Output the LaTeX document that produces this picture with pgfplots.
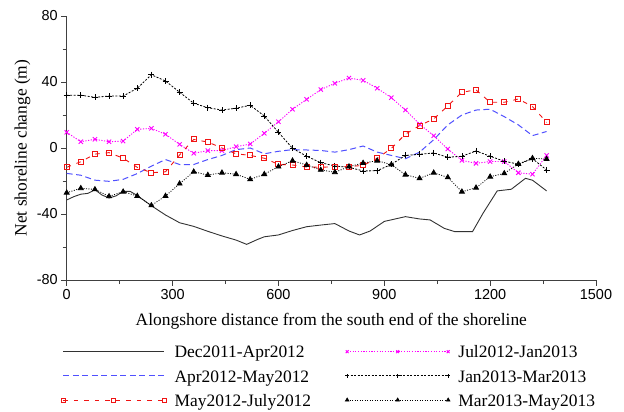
\documentclass[border=0pt]{standalone}
\usepackage{fontspec}
\setmainfont{Liberation Serif}
\setsansfont{Liberation Sans}
\usepackage{pgfplots}
\pgfplotsset{compat=1.18}
\definecolor{myblue}{RGB}{80,80,255}
\definecolor{myred}{RGB}{240,20,20}
\definecolor{mymag}{RGB}{255,0,255}
\definecolor{mygray}{RGB}{50,50,50}
\begin{document}
\begin{tikzpicture}
\useasboundingbox (-66.7bp,-132bp) rectangle (557.3bp,280bp);
\begin{axis}[
  at={(0,0)}, anchor=south west,
  scale only axis, width=529.3bp, height=264bp,
  xmin=0,xmax=1500,ymin=-80,ymax=80,
  axis lines=left, axis line style={-, black!75, line width=0.8bp},
  xtick={0,300,...,1500}, ytick={-80,-40,...,80},
  minor tick num=1,
  tick align=outside, major tick length=5.5bp, minor tick length=4bp,
  tick style={black!75, line width=0.8bp},
  ticklabel style={font=\fontsize{14.5}{16}\selectfont\sffamily},
  /pgf/number format/assume math mode=true,
  /pgf/number format/1000 sep={},
  xlabel={Alongshore distance from the south end of the shoreline},
  ylabel={Net shoreline change (m)},
  every axis x label/.style={at={(axis description cs:0.5,-0.1705)}, anchor=base, font=\fontsize{17.5}{20}\selectfont},
  every axis y label/.style={at={(axis description cs:-0.0756,0.5)}, rotate=90, anchor=base, font=\fontsize{17.5}{20}\selectfont},
  legend columns=2,
  legend cell align=left,
  legend image code/.code={\draw[#1, mark size=2bp] plot coordinates {(0bp,0bp) (50.5bp,0bp) (101bp,0bp)};},
  legend style={draw=none, fill=none, inner sep=0pt, outer sep=0pt,
     at={(axis description cs:-0.0102,-0.2424)}, anchor=north west,
     font=\fontsize{17.5}{20}\selectfont,
     nodes={inner sep=0pt, text height=14bp, text depth=1.4bp},
     row sep=8.8bp,
     /tikz/every odd column/.append style={column sep=8.3bp},
     /tikz/every even column/.append style={column sep=34bp}},
]
\addplot[mygray, line width=0.9bp] coordinates {
(0,-31.5) (20,-29.5) (40,-28) (60,-27.5) (80,-25.3) (100,-28.5) (120,-30.3) (140,-29)
(160,-26.3) (180,-26.3) (200,-28.8) (240,-35) (280,-40.6) (320,-45.3) (360,-47.5)
(400,-50.5) (440,-53.3) (480,-55.8) (510,-58.4) (540,-55.5) (560,-53.8) (600,-52.7)
(640,-50) (680,-47.7) (720,-46.7) (760,-45.8) (800,-50.3) (830,-52.7) (860,-50.3)
(900,-44.5) (960,-41.6) (1000,-43) (1030,-43.6) (1070,-48.7) (1100,-50.7) (1150,-50.7)
(1180,-39.5) (1220,-26) (1260,-25) (1300,-18.4) (1320,-19.5) (1360,-26)};
\addlegendentry{Dec2011-Apr2012}
\addplot[mymag, line width=0.9bp, dash pattern=on 1.2bp off 1.5bp, mark=x, mark size=3bp, mark options={solid}] coordinates {
(0,9.5) (40,3.8) (80,5.3) (120,3.8) (160,4.2) (200,11.3) (240,11.9) (280,8.3) (320,2.2)
(360,-3.2) (400,-1.6) (440,-1.6) (480,0.8) (520,2.4) (560,8.9) (600,15.9) (640,23.5)
(680,29.5) (720,35.4) (760,39.2) (800,42.4) (840,41.0) (880,36.2) (920,30.5) (960,23.0)
(1000,14.5) (1040,7.4) (1080,-0.6) (1120,-7.5) (1160,-9.3) (1200,-8.2) (1240,-8.2)
(1280,-15) (1320,-15.9) (1360,-4.5)};
\addlegendentry{Jul2012-Jan2013}
\addplot[myblue, line width=1bp, dash pattern=on 6bp off 3.5bp] coordinates {
(0,-15.4) (40,-16.5) (80,-19.5) (120,-20.2) (160,-19) (200,-15.5) (240,-11) (280,-7)
(320,-10) (360,-10) (400,-7) (440,-4.5) (480,-1) (520,0) (560,-3.5) (600,-2) (640,-1)
(680,-1.2) (720,-1.5) (760,-2.5) (800,-1) (840,1.2) (880,-2.5) (920,-4.5) (960,-6.5)
(1000,-2.5) (1040,5) (1080,14) (1120,20) (1160,23) (1200,23.5) (1240,19) (1280,14)
(1320,7.5) (1360,10)};
\addlegendentry{Apr2012-May2012}
\addplot[black, line width=0.8bp, dash pattern=on 2bp off 1.5bp, mark=+, mark size=3bp, mark options={solid}] coordinates {
(0,32) (40,32) (80,30.7) (120,31.5) (160,31.5) (200,36.2) (240,44.4) (280,40.6) (320,33.8)
(360,27.1) (400,24.4) (440,23.0) (480,24.1) (520,25.9) (560,19.4) (600,9.5) (640,-0.2)
(680,-5) (720,-8.9) (760,-10.9) (800,-11.7) (840,-13.9) (880,-13.8) (920,-9.9) (960,-4.5)
(1000,-3.8) (1040,-3) (1080,-5.6) (1120,-5) (1160,-1.8) (1200,-5) (1240,-8) (1280,-9.8)
(1320,-6.5) (1360,-13.3)};
\addlegendentry{Jan2013-Mar2013}
\addplot[myred, line width=0.9bp, dash pattern=on 4.5bp off 6bp, mark=square, mark size=2.5bp, mark options={solid}] coordinates {
(0,-11.7) (40,-8.3) (80,-3.7) (120,-2.8) (160,-6.2) (200,-11.7) (240,-15.0) (280,-14.4)
(320,-4.2) (360,5.2) (400,3.6) (440,0) (480,-3.5) (520,-4.5) (560,-6.2) (600,-9.9)
(640,-10.3) (680,-11.5) (720,-11.7) (760,-11.3) (800,-11.3) (840,-10.5) (880,-6.3)
(920,-0.2) (960,8.4) (1000,13.6) (1040,17.6) (1080,25.5) (1120,33.8) (1160,35.2)
(1200,27.7) (1240,27.7) (1280,29.7) (1320,25.1) (1360,15.6)};
\addlegendentry{May2012-July2012}
\addplot[black, line width=0.8bp, dash pattern=on 1bp off 1.5bp, mark=triangle*, mark size=2.8bp, mark options={solid}] coordinates {
(0,-27.1) (40,-24.4) (80,-25.1) (120,-29.3) (160,-26.5) (200,-29.1) (240,-34.8) (280,-29.1)
(320,-21.6) (360,-14.4) (400,-16.4) (440,-15.0) (480,-15.9) (520,-19.0) (560,-15.9)
(600,-11.3) (640,-7.7) (680,-10.3) (720,-13.3) (760,-14.7) (800,-11.3) (840,-9.1)
(880,-7.7) (920,-10.1) (960,-16.2) (1000,-18.4) (1040,-15.0) (1080,-17.8) (1120,-26.5)
(1160,-24.1) (1200,-17.4) (1240,-15.4) (1280,-9.7) (1320,-6.2) (1360,-6.7)};
\addlegendentry{Mar2013-May2013}
\end{axis}
\end{tikzpicture}
\end{document}
